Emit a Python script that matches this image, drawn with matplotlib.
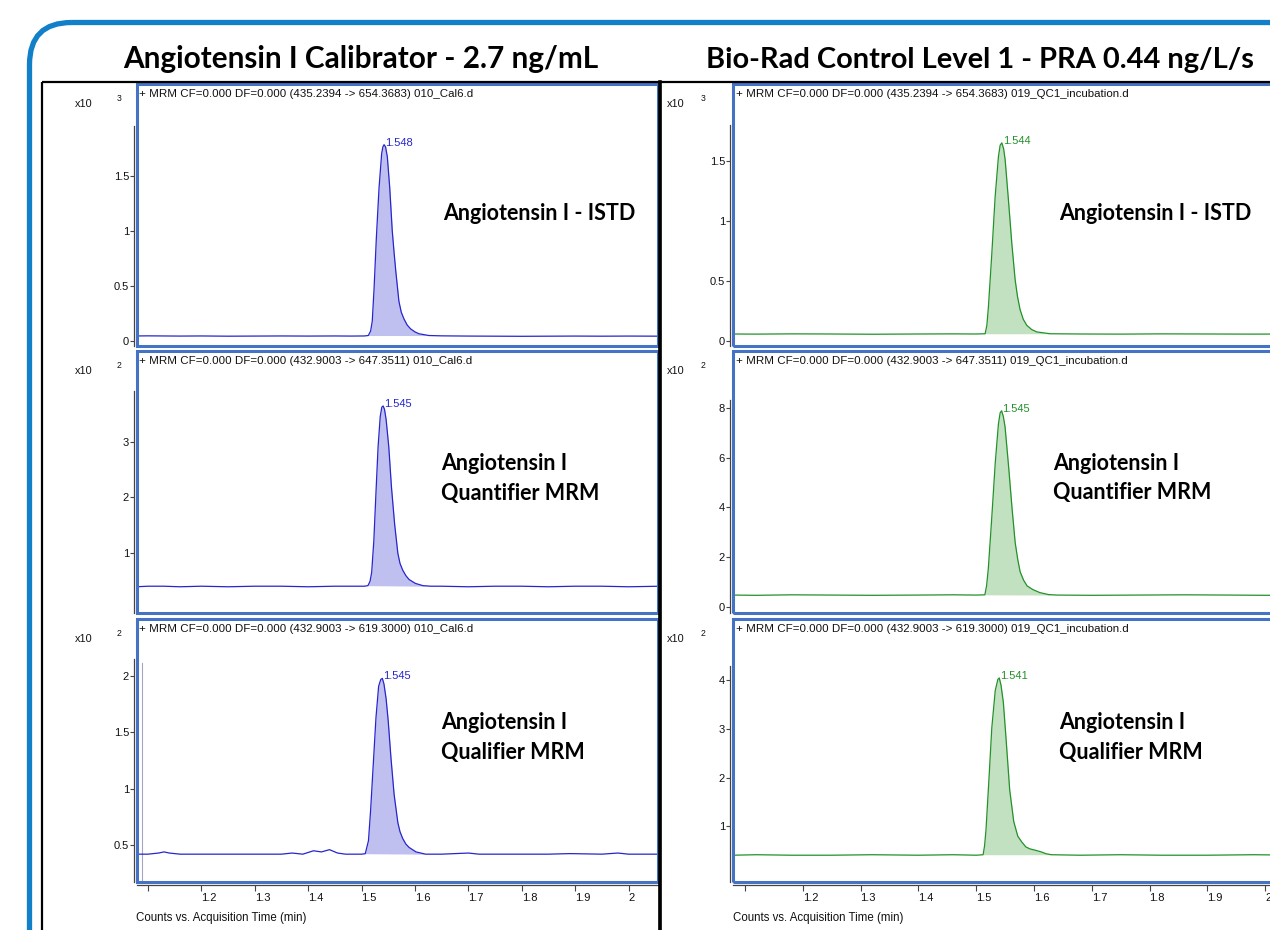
import matplotlib
matplotlib.use("Agg")
import matplotlib.pyplot as plt
from matplotlib.patches import Rectangle, FancyBboxPatch
import numpy as np

# ------------------------------------------------------------------ data
panel_titles = ["Angiotensin I Calibrator - 2.7 ng/mL",
                "Bio-Rad Control Level 1 - PRA 0.44 ng/L/s"]
headers_cal = ["+ MRM CF=0.000 DF=0.000 (435.2394 -> 654.3683) 010_Cal6.d",
               "+ MRM CF=0.000 DF=0.000 (432.9003 -> 647.3511) 010_Cal6.d",
               "+ MRM CF=0.000 DF=0.000 (432.9003 -> 619.3000) 010_Cal6.d"]
headers_qc = ["+ MRM CF=0.000 DF=0.000 (435.2394 -> 654.3683) 019_QC1_incubation.d",
              "+ MRM CF=0.000 DF=0.000 (432.9003 -> 647.3511) 019_QC1_incubation.d",
              "+ MRM CF=0.000 DF=0.000 (432.9003 -> 619.3000) 019_QC1_incubation.d"]
compound_labels = [["Angiotensin I - ISTD"],
                   ["Angiotensin I", "Quantifier MRM"],
                   ["Angiotensin I", "Qualifier MRM"]]
exponents = ["3", "2", "2"]
rt_cal = ["1.548", "1.545", "1.545"]
rt_qc = ["1.544", "1.545", "1.541"]
x_ticks = [1.1, 1.2, 1.3, 1.4, 1.5, 1.6, 1.7, 1.8, 1.9, 2.0]
x_tick_labels = ["", "1.2", "1.3", "1.4", "1.5", "1.6", "1.7", "1.8", "1.9", "2"]
x_label = "Counts vs. Acquisition Time (min)"
y_ticks_cal = [[0, 0.5, 1, 1.5], [1, 2, 3], [0.5, 1, 1.5, 2]]
y_ticks_qc = [[0, 0.5, 1, 1.5], [0, 2, 4, 6, 8], [1, 2, 3, 4]]

# Calibrator, ISTD (x10^3 counts)
cal_istd_t = [1.078, 1.10, 1.13, 1.16, 1.20, 1.25, 1.30, 1.35, 1.40, 1.45, 1.48, 1.505,
              1.5127, 1.5170, 1.5201, 1.5235, 1.5278, 1.5328, 1.5377, 1.5400, 1.5422, 1.5450,
              1.5483, 1.5528, 1.5575, 1.5610, 1.564, 1.570, 1.5745, 1.5795, 1.5855, 1.592,
              1.600, 1.6075, 1.626, 1.65, 1.70, 1.75, 1.80, 1.85, 1.90, 1.95, 2.00, 2.06]
cal_istd_y = [0.046, 0.047, 0.046, 0.045, 0.046, 0.044, 0.045, 0.046, 0.045, 0.046, 0.045, 0.046,
              0.05, 0.09, 0.18, 0.48, 0.94, 1.39, 1.70, 1.76, 1.78, 1.76,
              1.67, 1.39, 1.00, 0.80, 0.64, 0.36, 0.26, 0.20, 0.145, 0.11,
              0.083, 0.066, 0.05, 0.047, 0.045, 0.044, 0.043, 0.044, 0.045, 0.044, 0.045, 0.044]
# Calibrator, quantifier (x10^2 counts)
cal_quant_t = [1.078, 1.10, 1.13, 1.16, 1.20, 1.25, 1.30, 1.35, 1.40, 1.45, 1.48, 1.505,
               1.512, 1.516, 1.519, 1.523, 1.527, 1.531, 1.535, 1.538, 1.5405, 1.543, 1.546,
               1.551, 1.556, 1.562, 1.568, 1.572, 1.577, 1.583, 1.589, 1.601, 1.615, 1.63,
               1.65, 1.70, 1.75, 1.80, 1.85, 1.90, 1.95, 2.00, 2.06]
cal_quant_y = [0.40, 0.41, 0.41, 0.40, 0.41, 0.40, 0.41, 0.41, 0.40, 0.41, 0.41, 0.41,
               0.42, 0.50, 0.66, 1.22, 2.08, 2.91, 3.45, 3.62, 3.64, 3.58, 3.40,
               2.91, 2.19, 1.52, 1.00, 0.82, 0.70, 0.60, 0.53, 0.46, 0.42, 0.41,
               0.41, 0.40, 0.41, 0.41, 0.40, 0.41, 0.41, 0.40, 0.41]
# Calibrator, qualifier (x10^2 counts)
cal_qual_t = [1.078, 1.10, 1.12, 1.13, 1.14, 1.16, 1.20, 1.25, 1.30, 1.35, 1.37, 1.39,
              1.41, 1.425, 1.44, 1.455, 1.47, 1.50, 1.507,
              1.513, 1.517, 1.522, 1.527, 1.532, 1.536, 1.539, 1.542, 1.546, 1.550,
              1.555, 1.561, 1.568, 1.572, 1.577, 1.583, 1.589, 1.602, 1.62, 1.65, 1.70,
              1.72, 1.80, 1.85, 1.89, 1.95, 1.98, 2.00, 2.06]
cal_qual_y = [0.42, 0.42, 0.43, 0.44, 0.43, 0.42, 0.42, 0.42, 0.42, 0.42, 0.43, 0.42,
              0.45, 0.44, 0.46, 0.43, 0.42, 0.42, 0.424,
              0.54, 0.81, 1.22, 1.63, 1.91, 1.97, 1.98, 1.93, 1.80, 1.60,
              1.28, 0.95, 0.70, 0.62, 0.56, 0.51, 0.48, 0.44, 0.42, 0.42, 0.43,
              0.42, 0.42, 0.42, 0.425, 0.42, 0.43, 0.42, 0.42]
# QC, ISTD (x10^3 counts)
qc_istd_t = [1.079, 1.12, 1.18, 1.25, 1.32, 1.40, 1.46, 1.50,
             1.5155, 1.5185, 1.5212, 1.5271, 1.5328, 1.5385, 1.5415, 1.5444, 1.5475, 1.5501,
             1.5558, 1.5617, 1.5674, 1.5715, 1.576, 1.5815, 1.5876, 1.596, 1.605, 1.628,
             1.68, 1.75, 1.82, 1.90, 1.98, 2.06]
qc_istd_y = [0.058, 0.057, 0.059, 0.058, 0.056, 0.058, 0.059, 0.058,
             0.06, 0.13, 0.285, 0.73, 1.20, 1.535, 1.63, 1.65, 1.60, 1.51,
             1.175, 0.81, 0.51, 0.37, 0.26, 0.18, 0.13, 0.095, 0.075, 0.06,
             0.058, 0.057, 0.059, 0.058, 0.057, 0.058]
# QC, quantifier (x10^2 counts)
qc_quant_t = [1.079, 1.12, 1.18, 1.25, 1.32, 1.40, 1.46, 1.50,
              1.515, 1.518, 1.521, 1.527, 1.533, 1.5385, 1.5415, 1.544, 1.547, 1.550, 1.556,
              1.562, 1.5675, 1.572, 1.576, 1.582, 1.588, 1.598, 1.610, 1.625, 1.64, 1.70,
              1.78, 1.86, 1.94, 2.00, 2.06]
qc_quant_y = [0.48, 0.47, 0.49, 0.48, 0.47, 0.48, 0.49, 0.48,
              0.49, 0.85, 1.54, 3.60, 5.79, 7.35, 7.80, 7.88, 7.65, 7.23, 5.67,
              3.98, 2.58, 1.90, 1.42, 1.08, 0.85, 0.70, 0.58, 0.50, 0.48, 0.47,
              0.48, 0.49, 0.48, 0.47, 0.48]
# QC, qualifier (x10^2 counts)
qc_qual_t = [1.079, 1.12, 1.18, 1.25, 1.32, 1.40, 1.46, 1.50,
             1.512, 1.5145, 1.517, 1.522, 1.527, 1.533, 1.5375, 1.540, 1.543, 1.547, 1.552,
             1.558, 1.565, 1.572, 1.579, 1.586, 1.593, 1.603, 1.612, 1.621, 1.63,
             1.68, 1.75, 1.82, 1.90, 1.98, 2.06]
qc_qual_y = [0.41, 0.42, 0.41, 0.41, 0.42, 0.41, 0.42, 0.41,
             0.42, 0.60, 0.93, 1.95, 3.02, 3.79, 4.02, 4.05, 3.90, 3.55, 2.75,
             1.75, 1.10, 0.80, 0.68, 0.58, 0.54, 0.51, 0.48, 0.44, 0.42,
             0.41, 0.42, 0.41, 0.41, 0.42, 0.41]

cal_windows = [(1.5127, 1.626), (1.512, 1.63), (1.507, 1.62)]
qc_windows = [(1.5155, 1.628), (1.515, 1.64), (1.512, 1.63)]
marker_time = 1.0897      # thin vertical marker in calibrator qualifier trace
marker_top = 2.12

cal_traces = [(cal_istd_t, cal_istd_y), (cal_quant_t, cal_quant_y), (cal_qual_t, cal_qual_y)]
qc_traces = [(qc_istd_t, qc_istd_y), (qc_quant_t, qc_quant_y), (qc_qual_t, qc_qual_y)]

# ------------------------------------------------------------------ layout
W, H = 1270, 930
ROWS = [(84, 346), (351, 613), (619, 882)]
COLS = [(137, 658), (733, 1299)]
XLIM = [(1.0795, 2.0552), (1.0793, 2.0585)]
YLIM = [[(-0.045, 2.33), (-0.07, 4.625), (0.173, 2.507)],
        [(-0.042, 2.14), (-0.24, 10.28), (-0.14, 5.26)]]
SPINE_TOP = [[1.95, 3.9, 2.15], [1.8, 8.3, 4.3]]
LINE_C = ["#2626cc", "#23912a"]
FILL_C = ["#c0c0f0", "#c1e1c1"]
BLUE = "#4472c4"
SMALL = "Liberation Sans"
BIG = "Lato"

fig = plt.figure(figsize=(W / 100, H / 100), dpi=100)
fig.patch.set_facecolor("white")


def px_rect(x0, x1, y0, y1):
    return [x0 / W, 1 - y1 / H, (x1 - x0) / W, (y1 - y0) / H]


data_cols = [(cal_traces, cal_windows, rt_cal, y_ticks_cal),
             (qc_traces, qc_windows, rt_qc, y_ticks_qc)]

for c, (traces, windows, rts, yts) in enumerate(data_cols):
    for r in range(3):
        ax = fig.add_axes(px_rect(COLS[c][0], COLS[c][1], ROWS[r][0], ROWS[r][1]))
        ax.set_facecolor("none")
        t = np.asarray(traces[r][0])
        y = np.asarray(traces[r][1])
        a, b = windows[r]
        m = (t >= a) & (t <= b)
        base = np.interp(t[m], [a, b], [np.interp(a, t, y), np.interp(b, t, y)])
        ax.fill_between(t[m], base, y[m], color=FILL_C[c], lw=0, zorder=1)
        ax.plot(t, y, color=LINE_C[c], lw=0.9, zorder=2, solid_joinstyle="round")
        i = int(np.argmax(y))
        ax.annotate(rts[r], xy=(t[i], y[i]), xytext=(0.6, -0.6), textcoords="offset points",
                    ha="left", va="baseline", fontsize=8, color=LINE_C[c], family=SMALL)
        if c == 0 and r == 2:
            ax.plot([marker_time, marker_time], [YLIM[c][r][0], marker_top],
                    color="#a4a4c4", lw=0.8, zorder=1)
        ax.set_xlim(*XLIM[c])
        ax.set_ylim(*YLIM[c][r])
        for s in ("top", "right"):
            ax.spines[s].set_visible(False)
        ax.spines["left"].set_position(("outward", 2.2))
        ax.spines["left"].set_bounds(YLIM[c][r][0], SPINE_TOP[c][r])
        ax.spines["left"].set_color("#444444")
        ax.spines["left"].set_linewidth(0.9)
        ax.set_yticks(yts[r])
        ax.set_yticklabels(["%g" % v for v in yts[r]], family=SMALL)
        ax.tick_params(axis="y", direction="out", length=3.2, width=0.8, color="#444444",
                       labelsize=8, pad=0.3, labelcolor="#111111")
        if r < 2:
            ax.spines["bottom"].set_visible(False)
            ax.set_xticks([])
        else:
            ax.spines["bottom"].set_position(("outward", 2.2))
            ax.spines["bottom"].set_color("#444444")
            ax.spines["bottom"].set_linewidth(0.9)
            ax.set_xticks(x_ticks)
            ax.set_xticklabels(x_tick_labels, family=SMALL)
            ax.tick_params(axis="x", direction="out", length=4.5, width=0.8, color="#444444",
                           labelsize=8, pad=1.0, labelcolor="#111111")
            for lab in ax.get_xticklabels():
                lab.set_horizontalalignment("left")
        ax.add_patch(Rectangle((0, 0), 1, 1, transform=ax.transAxes, fill=False,
                               ec=BLUE, lw=2.2, clip_on=False, zorder=6))

# ------------------------------------------------------------------ overlay (pixel coords)
ov = fig.add_axes([0, 0, 1, 1], zorder=10)
ov.set_xlim(0, W)
ov.set_ylim(H, 0)
ov.axis("off")
ov.set_facecolor("none")

ov.add_patch(FancyBboxPatch((29.5, 22.5), 1400, 1000,
                            boxstyle="round,pad=0,rounding_size=42",
                            fill=False, ec="#1180c8", lw=3.8))
ov.add_patch(Rectangle((42, 82), 618, 900, fill=False, ec="black", lw=1.6))
ov.add_patch(Rectangle((660, 82), 700, 900, fill=False, ec="black", lw=1.6))
ov.plot([660, 660], [82, 940], color="black", lw=2.6)

fig.canvas.draw()
rend = fig.canvas.get_renderer()


def fit(txt, width_px):
    bb = txt.get_window_extent(renderer=rend)
    txt.set_fontsize(txt.get_fontsize() * width_px / bb.width)
    return txt.get_fontsize()


# titles
t1 = ov.text(123, 68, panel_titles[0], fontsize=20, fontweight="bold", family=BIG,
             ha="left", va="baseline")
t2 = ov.text(706, 68, panel_titles[1], fontsize=20, fontweight="bold", family=BIG,
             ha="left", va="baseline")
fit(t1, 475)
fit(t2, 547)

# compound labels
lab_pos = [[(443, [220]), (441, [470, 500]), (441, [729, 759])],
           [(1059, [220]), (1053, [470, 499]), (1059, [729, 759])]]
probe = ov.text(0, -100, compound_labels[0][0], fontsize=14, fontweight="bold", family=BIG)
lab_fs = fit(probe, 194)
probe.remove()
for c in range(2):
    for r in range(3):
        x, ys = lab_pos[c][r]
        for txt, yy in zip(compound_labels[r], ys):
            ov.text(x, yy, txt, fontsize=lab_fs, fontweight="bold", family=BIG,
                    ha="left", va="baseline")

# headers
probe = ov.text(0, -100, headers_cal[0], fontsize=7, family=SMALL)
hdr_fs = fit(probe, 329)
probe.remove()
hdr_x = [139, 736]
for c, hdrs in enumerate([headers_cal, headers_qc]):
    for r in range(3):
        ov.text(hdr_x[c], ROWS[r][0] + 13, hdrs[r], fontsize=hdr_fs, family=SMALL,
                ha="left", va="baseline", color="#111111")

# exponent labels
x10_x = [75, 667]
exp_x = [117, 701]
for c in range(2):
    for r in range(3):
        ov.text(x10_x[c], ROWS[r][0] + 23, "x10", fontsize=7.8, family=SMALL,
                ha="left", va="baseline", color="#111111")
        ov.text(exp_x[c], ROWS[r][0] + 17, exponents[r], fontsize=6.2, family=SMALL,
                ha="left", va="baseline", color="#111111")

# x axis labels
probe = ov.text(0, -100, x_label, fontsize=7, family=SMALL)
xl_fs = fit(probe, 171)
probe.remove()
for xx in (136, 733):
    ov.text(xx, 921, x_label, fontsize=xl_fs, family=SMALL, ha="left", va="baseline",
            color="#111111")

fig.savefig("out.png", dpi=100)
